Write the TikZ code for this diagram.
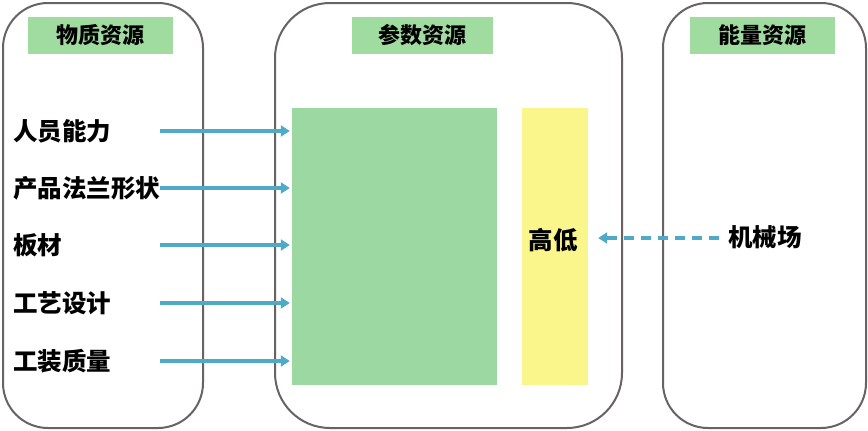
\documentclass[tikz,border=0pt]{standalone}
\usepackage{fontspec}
\newfontfamily\cjk{Noto Sans CJK SC}
\usetikzlibrary{arrows.meta,calc}
\definecolor{frame}{RGB}{105,98,98}
\definecolor{lgreen}{RGB}{155,216,162}
\definecolor{tgreen}{RGB}{160,220,160}
\definecolor{lyellow}{RGB}{250,246,140}
\definecolor{teal}{RGB}{78,170,198}
\tikzset{
  panel/.style={draw=frame, line width=2pt, rounded corners=45pt},
  title/.style={fill=tgreen, minimum width=145pt, minimum height=37pt, inner sep=0pt, font=\cjk\fontsize{22}{24}\selectfont\bfseries},
  item/.style={anchor=west, inner sep=0pt, font=\cjk\fontsize{24.5}{26}\selectfont\bfseries},
  link/.style={teal, line width=3.5pt, -{Triangle[length=9pt,width=11pt]}, shorten >=2pt},
  dlink/.style={link, dash pattern=on 10pt off 7pt, shorten >=0pt},
}
\begin{document}
\begin{tikzpicture}[x=1pt,y=-1pt]
\useasboundingbox (0,0) rectangle (868,431);
\fill[white] (0,0) rectangle (868,431);
\draw[panel] (3,3) rectangle (203,428);
\draw[panel, rounded corners=55pt] (275,3) rectangle (622,428);
\draw[panel] (663,3) rectangle (866,428);
\node[title] (t1) at (100.5,35) {物质资源};
\node[title, minimum width=141pt] (t2) at (422.5,35) {参数资源};
\node[title] (t3) at (762.5,35) {能量资源};
\node[fill=lgreen, minimum width=205pt, minimum height=277pt, inner sep=0pt] (param) at (394.5,246.5) {};
\node[fill=lyellow, minimum width=66pt, minimum height=277pt, inner sep=0pt] (level) at (555,246.5) {};
\node[font=\cjk\fontsize{24.5}{26}\selectfont\bfseries, inner sep=0pt] (gd) at (553,240) {高低};
\node[item] (a1) at (13,131) {人员能力};
\node[item] (a2) at (13,188) {产品法兰形状};
\node[item] (a3) at (13,245) {板材};
\node[item] (a4) at (13,303) {工艺设计};
\node[item] (a5) at (13,361) {工装质量};
\node[item] (m1) at (728,237) {机械场};
\coordinate (s1) at (160,131);
\coordinate (s2) at (160,188);
\coordinate (s3) at (160,245);
\coordinate (s4) at (160,303);
\coordinate (s5) at (160,361);
\foreach \i in {1,...,5} \draw[link] (s\i) -- (param.west |- s\i);
\coordinate (ms) at (719,238);
\draw[dlink] (ms) -- ($(level.east |- ms)+(10,0)$);
\end{tikzpicture}
\end{document}
